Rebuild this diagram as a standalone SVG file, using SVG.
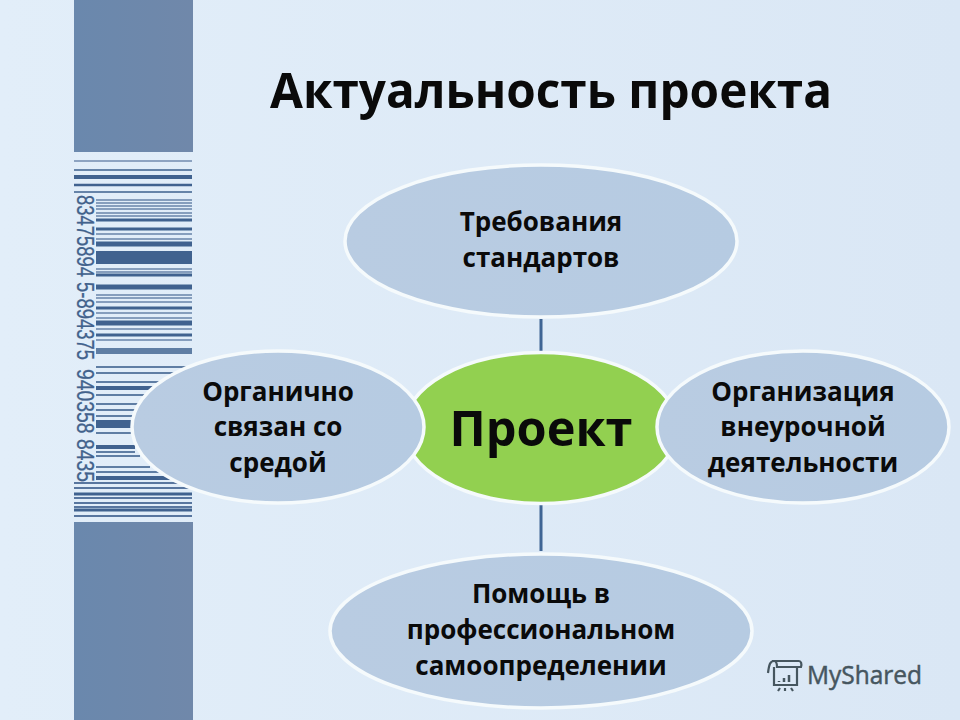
<svg xmlns="http://www.w3.org/2000/svg" width="960" height="720" viewBox="0 0 960 720">
<style>
.t{font-family:"Open Sans","Liberation Sans",sans-serif;font-weight:700;fill:#0a0a0a;text-anchor:middle}
.l{font-size:26px}
.o{fill:url(#blue);stroke:#f5fafc;stroke-width:3.5}
.b{stroke:#3f628f;fill:none}
.c{stroke:#3f6594;stroke-width:3;fill:none}
</style>
<defs>
<linearGradient id="bg" x1="0" x2="1" y1="0" y2="0"><stop offset="0" stop-color="#e2eef9"/><stop offset="1" stop-color="#dae7f5"/></linearGradient>
<linearGradient id="band" x1="0" x2="1" y1="0" y2="0"><stop offset="0" stop-color="#6a88ad"/><stop offset="1" stop-color="#7088aa"/></linearGradient>
<linearGradient id="blue" x1="0" x2="1" y1="0" y2="0"><stop offset="0" stop-color="#b9cce2"/><stop offset="1" stop-color="#b6cbe2"/></linearGradient>
<filter id="soft" x="-5%" y="-5%" width="110%" height="110%"><feGaussianBlur stdDeviation="0.45"/></filter>
</defs>
<rect width="960" height="720" fill="url(#bg)"/>
<g id="barcode">
<rect x="74" y="0" width="119" height="152" fill="url(#band)"/>
<rect x="74" y="522" width="119" height="198" fill="url(#band)"/>
<g class="b" filter="url(#soft)">
<path stroke-width="1.5" opacity=".7" d="M74 161H192"/>
<path stroke-width="1.5" d="M74 170H192M74 192H192"/>
<path stroke-width="4" d="M74 177H192"/>
<path stroke-width="2.5" d="M74 185H192"/>
<path stroke-width="1.5" opacity=".75" d="M96 200H192M96 203H192M96 206H192M96 209H192M96 213H192M96 216H192M96 234H192M96 239H192M96 269H192M96 272H192M96 295H192M96 298H192M96 302H192M96 313H192M96 318H192M96 329H192M96 340H192"/>
<path stroke-width="3" d="M96 220H192M96 229H192M96 275H192M96 308H192M96 335H192"/>
<path stroke-width="5" d="M96 244H192M96 287H192M96 323H192"/>
<rect x="96" y="251" width="96" height="13" fill="#3f628f" stroke="none"/>
<path stroke-width="6" opacity=".8" d="M96 351H192"/>
<path stroke-width="2" opacity=".8" d="M96 367H190M96 373H175M96 382H165M96 395H150M96 404H145M96 410H140M96 416H135M96 433H135M96 452H135M96 456H140M96 467H150M96 472H165"/>
<path stroke-width="4" d="M96 388H155M96 447H135M96 478H175"/>
<rect x="96" y="420" width="40" height="8" fill="#3f628f" stroke="none"/>
<path stroke-width="2" opacity=".85" d="M74 483H192M74 488H192M74 498H192M74 503H192M74 507H192M74 516H192"/>
<path stroke-width="3" d="M74 494H192M74 510H192"/>
</g>
<text transform="translate(77 195) rotate(90)" font-family="Liberation Sans,sans-serif" font-size="24" fill="#42628c" stroke="#42628c" stroke-width=".3" textLength="165" lengthAdjust="spacingAndGlyphs">83475894 5-894375</text>
<text transform="translate(77 369) rotate(90)" font-family="Liberation Sans,sans-serif" font-size="24" fill="#42628c" stroke="#42628c" stroke-width=".3" textLength="113" lengthAdjust="spacingAndGlyphs">940358 8435</text>
</g>
<g id="title"><text class="t" x="551" y="108" font-size="49" textLength="562" lengthAdjust="spacingAndGlyphs">Актуальность проекта</text></g>
<g id="connectors">
<path class="c" d="M541 319V352M541 505V551"/>
</g>
<g id="center"><ellipse cx="541" cy="428" rx="137" ry="75.500" fill="#92d050" stroke="#f5fafc" stroke-width="3.500"/>
<text class="t" x="541" y="446" font-size="48" textLength="183" lengthAdjust="spacingAndGlyphs">Проект</text></g>
<g id="top"><ellipse class="o" cx="541" cy="241" rx="196" ry="76"/>
<text class="t l" x="541" y="231">Требования</text><text class="t l" x="541" y="267">стандартов</text></g>
<g id="left"><ellipse class="o" cx="278" cy="427" rx="146" ry="76"/>
<text class="t l" x="278" y="401">Органично</text><text class="t l" x="278" y="436">связан со</text><text class="t l" x="278" y="472">средой</text></g>
<g id="right"><ellipse class="o" cx="803" cy="427" rx="146" ry="76"/>
<text class="t l" x="803" y="401">Организация</text><text class="t l" x="803" y="436">внеурочной</text><text class="t l" x="803" y="472">деятельности</text></g>
<g id="bottom"><ellipse class="o" cx="541" cy="631" rx="211" ry="77"/>
<text class="t l" x="541" y="603">Помощь в</text><text class="t l" x="541" y="639">профессиональном</text><text class="t l" x="541" y="675">самоопределении</text></g>
<g id="logo" fill="none" stroke="#46565f" stroke-width="2.200">
<path d="M772 661H799M774 661C770 661 769 665 768 673M774 661C777 661 777 665 777 667H801C802 664 801 661 799 661M774 667V685H797V667M780 688L778 691M785 688V691M791 688L793 691"/>
<path stroke-width="2.500" d="M779 681V682M784 678V682M789 675V682"/>
<text x="807" y="684" font-family="Open Sans,Liberation Sans,sans-serif" font-size="26" fill="#46565f" stroke="#46565f" stroke-width=".5" textLength="115" lengthAdjust="spacingAndGlyphs">MyShared</text>
</g>
</svg>
